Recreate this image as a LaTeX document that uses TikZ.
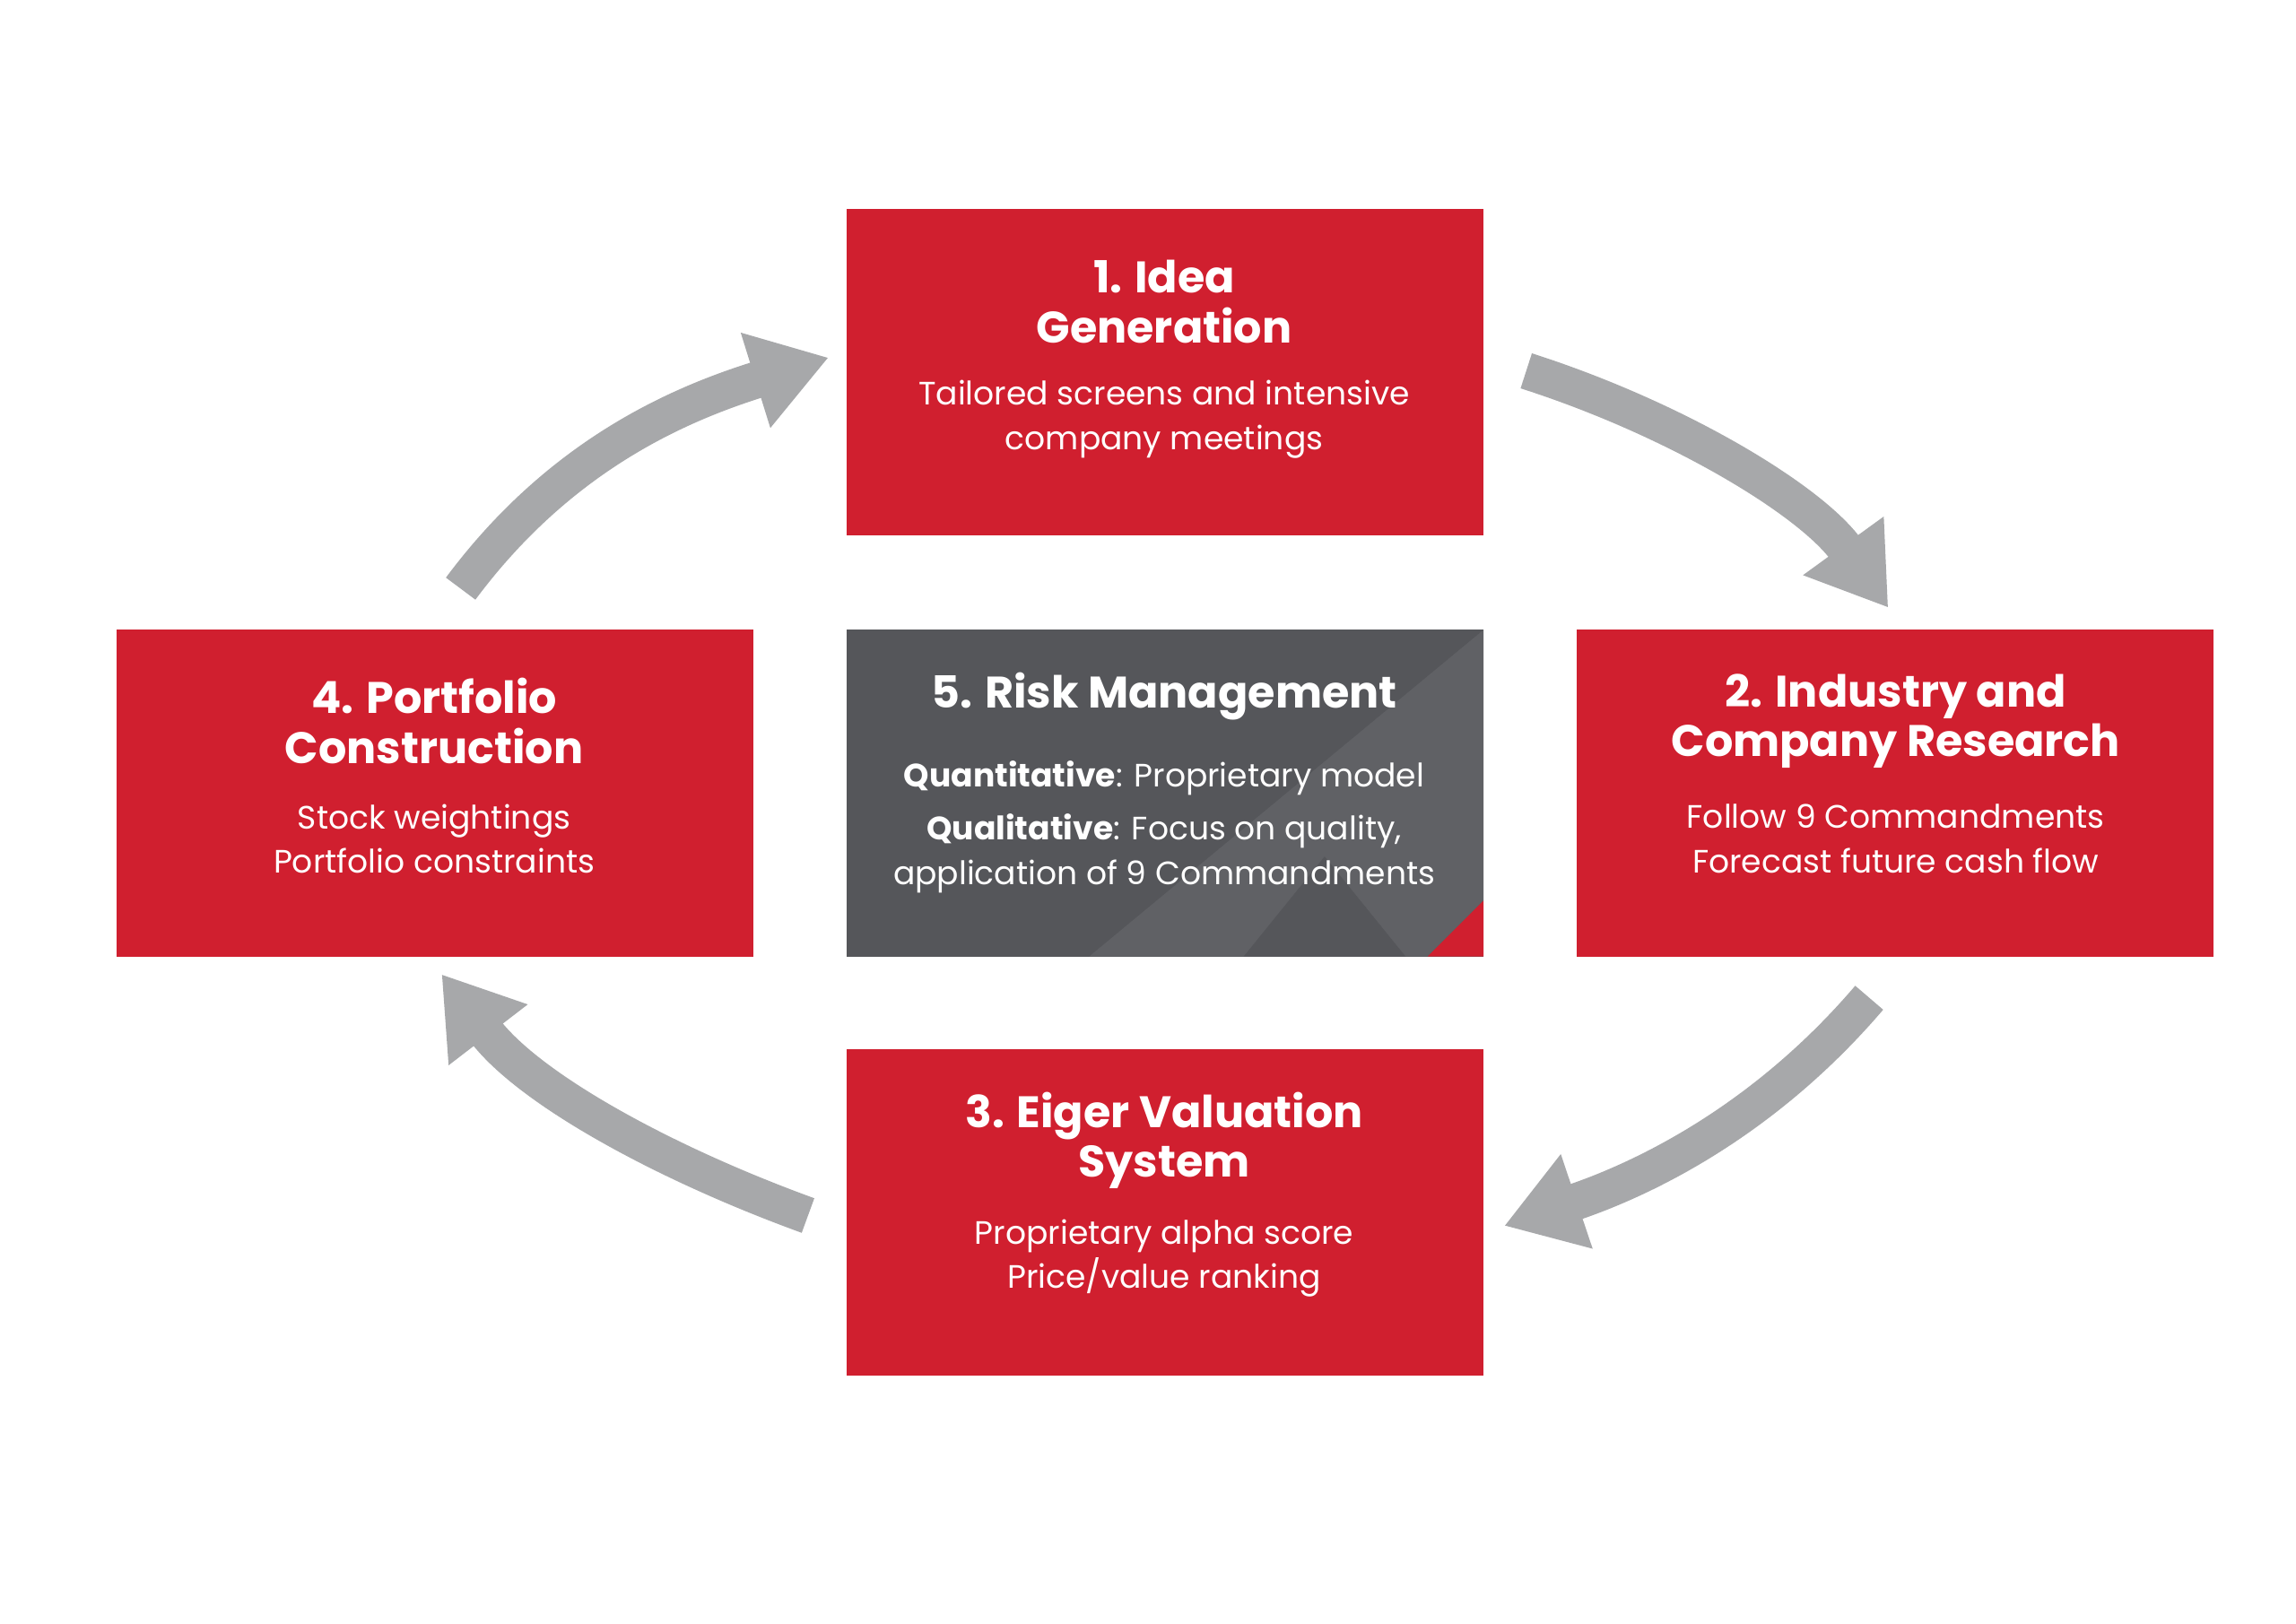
\documentclass[tikz,border=0pt]{standalone}
\usepackage{fontspec}
\setmainfont{Poppins}
\usetikzlibrary{arrows.meta}
\definecolor{ered}{HTML}{D01F2F}
\definecolor{egray}{HTML}{55565A}
\definecolor{egray2}{HTML}{606165}
\definecolor{earrow}{HTML}{A7A8AA}
\begin{document}
\begin{tikzpicture}[x=0.5pt,y=-0.5pt,
  box/.style={fill=ered},
  ttl/.style={text=white,font=\fontsize{15}{17}\selectfont\bfseries,align=center},
  bod/.style={text=white,font=\fontsize{11}{15}\selectfont,align=center},
  arr/.style={draw=earrow,line width=12.5pt,-{Triangle[length=26pt,width=32pt]}}]
\useasboundingbox (0,0) rectangle (1560,1103);
\fill[white] (0,0) rectangle (1560,1103);
% boxes
\fill[box] (575,142) rectangle (1008,364);
\fill[box] (79,428) rectangle (512,650);
\fill[box] (1071,428) rectangle (1504,650);
\fill[box] (575,713) rectangle (1008,935);
\fill[egray] (575,428) rectangle (1008,650);
\fill[egray2] (1008,428) -- (1008,612) -- (970,650) -- (740,650) -- cycle;
\fill[egray] (845,650) -- (900,582) -- (955,650) -- cycle;
\fill[ered] (1008,612) -- (1008,650) -- (970,650) -- cycle;
% texts
\node[ttl] (t1) at (791,205) {1. Idea\\Generation};
\node[bod] (b1) at (791,285) {Tailored screens and intensive\\company meetings};
\node[ttl] (t4) at (295,490) {4. Portfolio\\Construction};
\node[bod] (b4) at (295,570) {Stock weightings\\Portfolio constraints};
\node[ttl] (t2) at (1288,490) {2. Industry and\\Company Research};
\node[bod] (b2) at (1288,570) {Follow 9 Commandments\\Forecast future cash flow};
\node[ttl] (t3) at (791,775) {3. Eiger Valuation\\System};
\node[bod] (b3) at (791,855) {Proprietary alpha score\\Price/value ranking};
\node[ttl] (t5) at (791,473) {5. Risk Management};
\node[bod] (b5) at (791,562) {\textbf{Quantitative}: Proprietary model\\[3pt]\textbf{Qualitative}: Focus on quality,\\application of 9 Commandments};
% arrows
\coordinate (a1s) at (313,400); \coordinate (a1e) at (563,243);
\coordinate (a2s) at (1037,252); \coordinate (a2e) at (1283,413);
\coordinate (a3s) at (1270,678); \coordinate (a3e) at (1022,833);
\coordinate (a4s) at (549,826); \coordinate (a4e) at (300,662);
\draw[arr] (a1s) .. controls (380,310) and (460,275) .. (a1e);
\draw[arr] (a2s) .. controls (1140,285) and (1230,340) .. (a2e);
\draw[arr] (a3s) .. controls (1200,760) and (1120,800) .. (a3e);
\draw[arr] (a4s) .. controls (450,790) and (360,740) .. (a4e);
\end{tikzpicture}
\end{document}
